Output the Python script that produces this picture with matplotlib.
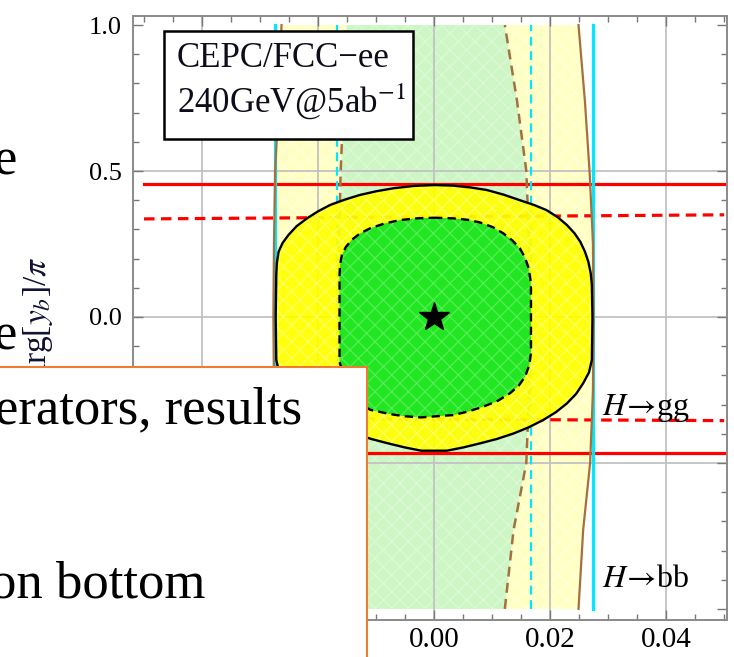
import matplotlib.pyplot as plt
from matplotlib.patches import Rectangle
from matplotlib.ticker import MultipleLocator

plt.rcParams['font.family'] = ['Liberation Serif', 'DejaVu Serif']
plt.rcParams['mathtext.fontset'] = 'stix'
plt.rcParams['hatch.linewidth'] = 0.9

# H->gg bounds on Arg[y_b]/pi (solid 95%, dashed 68%), values at both x ends
x_ends = [-0.05, 0.05]
gg_solid = [[0.455, 0.455], [-0.466, -0.466]]
gg_dashed = [[0.336, 0.350], [-0.345, -0.355]]

# H->bb bounds on the real part
y_ends = [-1.0, 1.0]
bb_solid = [-0.0274, 0.0274]
bb_dashed = [-0.0167, 0.0167]

# brown curves (combined bound) sampled along y
brown_y = [-1.0, -0.73, -0.5, -0.25, 0.0, 0.25, 0.5, 0.74, 1.0]
brown_solid_left = [-0.0263, -0.0268, -0.0274, -0.0276, -0.0277, -0.0276, -0.0274, -0.0268, -0.0263]
brown_solid_right = [0.0249, 0.0257, 0.0269, 0.0274, 0.0275, 0.0274, 0.0268, 0.0260, 0.0249]
brown_dash_left = [-0.0151, -0.0156, -0.0161, -0.0164, -0.0165, -0.0164, -0.0161, -0.0156, -0.0151]
brown_dash_right = [0.0122, 0.0137, 0.0159, 0.0164, 0.0166, 0.0164, 0.0159, 0.0143, 0.0122]

# global fit contours, clockwise from the top
outer_x = [0.0, 0.0033, 0.0062, 0.0091, 0.0120, 0.0148, 0.0172, 0.0194, 0.0213, 0.0229,
           0.0242, 0.0252, 0.0260, 0.0266, 0.0270, 0.0272, 0.0273,
           0.0272, 0.0267, 0.0257, 0.0245, 0.0229, 0.0210, 0.0188, 0.0163, 0.0137,
           0.0108, 0.0079, 0.0050, 0.0022,
           -0.0022, -0.0050, -0.0079, -0.0108, -0.0137, -0.0163, -0.0188, -0.0210,
           -0.0229, -0.0245, -0.0257, -0.0267, -0.0272,
           -0.0273, -0.0272, -0.0271, -0.0268, -0.0261, -0.0251, -0.0237, -0.0219,
           -0.0200, -0.0179, -0.0154, -0.0128, -0.0099, -0.0070, -0.0035]
outer_y = [0.452, 0.450, 0.444, 0.435, 0.419, 0.400, 0.384, 0.366, 0.342, 0.315,
           0.287, 0.258, 0.224, 0.189, 0.150, 0.110, 0.0,
           -0.147, -0.190, -0.227, -0.263, -0.296, -0.326, -0.353, -0.378, -0.399,
           -0.418, -0.433, -0.447, -0.458,
           -0.458, -0.447, -0.433, -0.418, -0.399, -0.378, -0.353, -0.326,
           -0.296, -0.263, -0.227, -0.190, -0.147,
           0.0, 0.144, 0.185, 0.224, 0.254, 0.281, 0.311, 0.338,
           0.362, 0.384, 0.402, 0.418, 0.431, 0.441, 0.449]
inner_x = [0.0, 0.0033, 0.0058, 0.0079, 0.0101, 0.0119, 0.0135, 0.0148, 0.0157, 0.0163,
           0.0166, 0.0167, 0.0167, 0.0167, 0.0164, 0.0157, 0.0146, 0.0131, 0.0110,
           0.0085, 0.0060, 0.0033, -0.0024, -0.0050, -0.0075, -0.0110, -0.0127,
           -0.0139, -0.0150, -0.0156, -0.0163, -0.0163, -0.0163, -0.0162, -0.0159,
           -0.0152, -0.0142, -0.0128, -0.0110, -0.0086, -0.0059, -0.0030]
inner_y = [0.340, 0.338, 0.333, 0.324, 0.308, 0.287, 0.262, 0.235, 0.202, 0.167,
           0.130, 0.098, 0.0, -0.124, -0.165, -0.204, -0.235, -0.261, -0.287,
           -0.307, -0.323, -0.336, -0.344, -0.340, -0.333, -0.318, -0.298,
           -0.273, -0.240, -0.204, -0.153, 0.0, 0.144, 0.180, 0.212,
           0.240, 0.264, 0.286, 0.304, 0.320, 0.332, 0.338]

sm_x, sm_y = 0.0, 0.0

grid_x = [-0.04, -0.02, 0.0, 0.02, 0.04]
grid_y = [-0.5, 0.0, 0.5]
xticks = [-0.04, -0.02, 0.0, 0.02, 0.04]
xlabels = ['', '', '0.00', '0.02', '0.04']
yticks = [-1.0, -0.5, 0.0, 0.5, 1.0]
ylabels = ['', '', '0.0', '0.5', '1.0']

fig = plt.figure(figsize=(7.34, 6.57), dpi=100)
ax = fig.add_axes([0.1812, 0.0563, 0.8093, 0.9193])

# light bands
ax.fill_betweenx(brown_y, brown_dash_left, brown_dash_right, fc='#cdf6c4', ec='#dcf9d5',
                 hatch='xx', lw=0, zorder=1)
ax.fill_betweenx(brown_y, brown_solid_left, brown_dash_left, fc='#ffffc4', ec='#ffffda',
                 hatch='xx', lw=0, zorder=1)
ax.fill_betweenx(brown_y, brown_dash_right, brown_solid_right, fc='#ffffc4', ec='#ffffda',
                 hatch='xx', lw=0, zorder=1)

for v in grid_x:
    ax.axvline(v, color='#c2c2c2', lw=1.3, zorder=1.5)
for v in grid_y:
    ax.axhline(v, color='#c2c2c2', lw=1.3, zorder=1.5)

# individual channel bounds
for ys in gg_solid:
    ax.plot(x_ends, ys, color='red', lw=2.3, zorder=2)
for ys in gg_dashed:
    ax.plot(x_ends, ys, color='red', lw=2.3, dashes=(3.3, 2), zorder=2)
for xv in bb_solid:
    ax.plot([xv, xv], y_ends, color='#00e8ff', lw=2.3, zorder=2)
for xv in bb_dashed:
    ax.plot([xv, xv], y_ends, color='#00e8ff', lw=1.6, dashes=(4, 2.5), zorder=2)
ax.plot(brown_solid_left, brown_y, color='#a47040', lw=1.6, zorder=2.1)
ax.plot(brown_solid_right, brown_y, color='#a47040', lw=1.6, zorder=2.1)
ax.plot(brown_dash_left, brown_y, color='#a47040', lw=1.8, dashes=(4, 2.5), zorder=2.1)
ax.plot(brown_dash_right, brown_y, color='#a47040', lw=1.8, dashes=(4, 2.5), zorder=2.1)

# combined fit regions
ax.fill(outer_x, outer_y, fc='#ffff00', ec='#ffff66', hatch='xx', alpha=0.93, lw=0, zorder=3)
ax.fill(inner_x, inner_y, fc='#22e622', ec='#55ee55', hatch='xx', lw=0, zorder=4)
ax.fill(outer_x, outer_y, fc='none', ec='black', lw=1.7, joinstyle='round', zorder=5)
ax.fill(inner_x, inner_y, fc='none', ec='black', lw=1.7, ls=(0, (3.5, 2.2)), zorder=5)
ax.plot(sm_x, sm_y, marker='*', color='black', ms=22, zorder=6)

ax.text(0.029, -0.336, r'$H\!\rightarrow\!$gg', fontsize=23, zorder=7)
ax.text(0.029, -0.925, r'$H\!\rightarrow\!$bb', fontsize=23, zorder=7)

# label box
ax.add_patch(Rectangle((0.0522, 0.7964), 0.4192, 0.1788, transform=ax.transAxes,
                       fc='white', ec='black', lw=1.8, zorder=8))
ax.text(0.0741, 0.9156, 'CEPC/FCC\u2212ee', transform=ax.transAxes, fontsize=25,
        color='#0d0d1a', zorder=9)
ax.text(0.0741, 0.8394, r'240GeV@5ab$^{-1}$', transform=ax.transAxes, fontsize=25,
        color='#0d0d1a', zorder=9)

ax.set_xlim(-0.0519, 0.0505)
ax.set_ylim(-1.038, 1.031)
ax.set_xticks(xticks)
ax.set_xticklabels(xlabels)
ax.set_yticks(yticks)
ax.set_yticklabels(ylabels)
ax.xaxis.set_minor_locator(MultipleLocator(0.005))
ax.yaxis.set_minor_locator(MultipleLocator(0.1))
ax.tick_params(which='both', direction='in', top=True, right=True, color='#777777', width=1)
ax.tick_params(which='major', length=7)
ax.tick_params(which='minor', length=4.5)
ax.tick_params(axis='x', labelsize=21, pad=5)
ax.tick_params(axis='y', labelsize=19, pad=8)
for s in ax.spines.values():
    s.set_color('#8a8a8a')
    s.set_linewidth(1.4)

fig.text(38 / 734, 1 - 322 / 657, r'Arg[$y_b$]/$\pi$', rotation=90, ha='center',
         va='center', fontsize=24, color='#111133', zorder=2)

# slide text around the plot
fig.text(17 / 734, 1 - 175 / 657, 'e', ha='right', va='baseline', fontsize=38, zorder=2)
fig.text(17 / 734, 1 - 350 / 657, 'e', ha='right', va='baseline', fontsize=38, zorder=2)
fig.add_artist(Rectangle((-0.05, -0.05), 0.05 + 367 / 734, 0.05 + 1 - 367 / 657,
                         transform=fig.transFigure, fc='white', ec='#ed7d31', lw=1.5,
                         zorder=5))
fig.text(302 / 734, 1 - 423 / 657, 'erators, results', ha='right', va='baseline',
         fontsize=38, zorder=6)
fig.text(205 / 734, 1 - 597 / 657, 'on bottom', ha='right', va='baseline',
         fontsize=38, zorder=6)

fig.savefig('out.png', dpi=100)
